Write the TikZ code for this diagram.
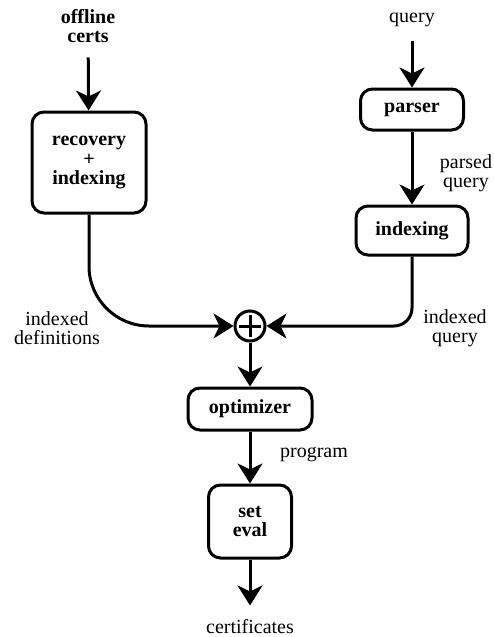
\documentclass[tikz,border=0pt]{standalone}
\usepackage{fontspec}
\setmainfont{Liberation Serif}
\usepackage{tikz}
\usetikzlibrary{arrows.meta}

\tikzset{
	blk/.style={draw, line width=1.5pt, rounded corners=6pt, align=center, inner sep=0pt,
		font=\bfseries\fontsize{10}{9.75}\selectfont},
	lbl/.style={align=center, inner sep=2pt, font=\fontsize{10}{9.75}\selectfont},
	flow/.style={line width=1.5pt, -{Stealth[length=10pt,width=12.5pt,inset=3pt]}},
	sumnode/.style={draw, circle, line width=1.5pt, minimum size=15pt, inner sep=0pt,
		path picture={
			\draw[line width=1.5pt] (path picture bounding box.center) ++(-5.5pt,0) -- ++(11pt,0);
			\draw[line width=1.5pt] (path picture bounding box.center) ++(0,-5.5pt) -- ++(0,11pt);
		}},
}

\begin{document}
\begin{tikzpicture}[x=0.5pt,y=-0.5pt]
\useasboundingbox (0,0) rectangle (493,637);

% left branch
\node[lbl,font=\bfseries\fontsize{10}{9.75}\selectfont] (off) at (88,26) {offline\\certs};
\node[blk,minimum width=57pt,minimum height=50.5pt] (rec) at (89,162.5) {recovery\\+\\indexing};

% right branch
\node[lbl] (qry) at (412,20) {query};
\node[blk,minimum width=51.5pt,minimum height=20.5pt] (par) at (412,109.5) {parser};
\node[blk,minimum width=56pt,minimum height=24.5pt] (idx) at (412,230.5) {indexing};

% merge and evaluation
\node[sumnode] (sum) at (250,326) {};
\node[blk,minimum width=62pt,minimum height=21pt] (opt) at (250,409) {optimizer};
\node[blk,minimum width=41.5pt,minimum height=36.5pt] (set) at (250,521.5) {set\\eval};
\node[lbl] (cert) at (250,627) {certificates};

% edge labels
\node[lbl] (pq) at (466,173) {parsed\\query};
\node[lbl] (idef) at (57,328) {indexed\\definitions};
\node[lbl] (iq) at (455,328) {indexed\\query};
\node[lbl] (prog) at (314,455) {program};

\draw[flow,shorten <=5pt] (off) -- (rec);
\draw[flow,shorten <=5pt] (qry) -- (par);
\draw[flow] (par) -- (idx);
\draw[flow,rounded corners=30pt] (rec) |- (sum);
\draw[flow,rounded corners=9pt] (idx) |- (sum);
\draw[flow] (sum) -- (opt);
\draw[flow] (opt) -- (set);
\draw[flow,shorten >=5pt] (set) -- (cert);
\end{tikzpicture}
\end{document}
